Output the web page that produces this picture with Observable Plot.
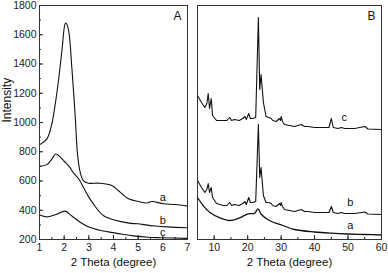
<!DOCTYPE html>
<html><head><meta charset="utf-8">
<script src="https://cdn.jsdelivr.net/npm/d3@7"></script>
<script src="https://cdn.jsdelivr.net/npm/@observablehq/plot@0.6"></script>
<style>
body{margin:0;background:#fff}
#wrap{position:relative;width:388px;height:273px;font-family:"Liberation Sans",Arial,sans-serif}
#wrap svg{position:absolute;top:0;overflow:visible}
</style>
</head><body><div id="wrap"></div>
<script>
// Panel A (low angle)
const thetaA_a = [1,1.3,1.5,1.64,1.77,1.91,2.04,2.08,2.18,2.31,2.45,2.54,2.65,2.78,2.99,3.46,3.93,4.27,4.61,5.01,5.35,5.55,6.03,6.5,7];
const intA_a   = [847,888,991,1128,1287,1492,1675,1679,1629,1378,1036,786,660,603,585,585,569,524,478,460,450,460,444,439,428];
const thetaA_b = [1,1.3,1.5,1.65,1.8,2.0,2.2,2.4,2.6,2.8,3.0,3.2,3.4,3.6,3.9,4.3,4.7,5.0,5.3,5.7,6.2,7];
const intA_b   = [700,712,750,785,770,735,700,650,612,550,490,440,395,362,340,322,310,308,300,292,286,280];
const thetaA_c = [1,1.3,1.5,1.7,2.04,2.3,2.65,3.0,3.4,3.8,4.3,4.8,5.4,5.9,7];
const intA_c   = [370,355,362,372,394,362,318,285,265,252,238,225,215,212,208];
const yTicksA = [200,400,600,800,1000,1200,1400,1600,1800];
const xTicksA = [1,2,3,4,5,6,7];
const labelsA = ["a","b","c"];
const labelXA = [6.0,6.0,6.0];
const labelYA = [490,330,245];

// Panel B (wide angle), arbitrary intensity units
const thetaB_a = [5,6.7,8.7,11.7,14.6,17.6,20.1,22.1,23.1,24.1,26.5,30.5,34,40,45,50,55,60];
const intB_a   = [42,34,27,21.7,19,21.7,25.7,26.3,30.7,25,19,14,10,7.5,6.3,5.5,5,4.5];
const thetaB = [5,6.2,7.2,7.8,8.2,8.6,9.1,9.5,10.7,12.7,13.8,14.6,15.2,16,17.5,18.5,19.2,19.6,20.3,20.8,21.5,22.4,23.2,23.6,24.0,24.7,25.5,26.3,27,27.5,28.5,29.5,29.8,30,30.4,31,34,35,36,37,38,40,44.3,45,45.6,47,48,49,52,55,56,60];
const intB_b = [59,52,47,50,56,47,52,42,36,34,34,37,34,35,34,36,38,35,42,37,37,38,115,62,72,44,37,37,36,34,33,36,34,37,33,30,28,29,30,28,28,27,27,33,27,26,27,26,26,27.5,25.5,25];
const intB_c = [144,137,132,136,146,131,141,124,119,119,119,122,119,120,119,121,123,120,126,121,121,122,222,150,165,137,123,122,121,119,118,121,119,123,118,115,113,114,115,113,113,112,112,121,112,111,112,111,111,113,110.5,110];
const xTicksB = [10,20,30,40,50,60];
const labelsB = ["c","b","a"];
const labelXB = [48.9,50.7,50.7];
const labelYB = [122,37,14];

const font = '"Liberation Sans", Arial, sans-serif';
const toRows = (xs, ys) => xs.map((x,i)=>({x, y: ys[i]}));
const fmt = d => String(d);

const plotA = Plot.plot({
  width: 192, height: 273,
  marginLeft: 39, marginRight: 5, marginTop: 5, marginBottom: 34,
  style: {fontFamily: font, fontSize: "10.5px", color: "#222", background: "transparent", overflow: "visible"},
  x: {domain: [1,7]},
  y: {domain: [200,1800]},
  marks: [
    Plot.axisY({ticks: d3.range(200,1801,100), tickSize: -2, tickFormat: () => "", label: null}),
    Plot.axisY({ticks: yTicksA, tickSize: -4, tickPadding: 7, tickFormat: fmt, fontSize: 10.5, label: null}),
    Plot.text(["Intensity"], {frameAnchor: "left", rotate: -90, dx: -32, text: d => d, fontSize: 12, fill: "#111"}),
    Plot.axisX({ticks: d3.range(1,7.01,0.5), tickSize: -2, tickFormat: () => "", label: null}),
    Plot.axisX({ticks: xTicksA, tickSize: -4, tickPadding: 8, tickFormat: fmt, fontSize: 10.5, label: null}),
    Plot.text(["2 Theta (degree)"], {frameAnchor: "bottom", dy: 26, text: d => d, fontSize: 11.5, fill: "#111"}),
    Plot.line(toRows(thetaA_a, intA_a), {x:"x", y:"y", curve:"catmull-rom", stroke:"#111", strokeWidth:1.1}),
    Plot.line(toRows(thetaA_b, intA_b), {x:"x", y:"y", curve:"catmull-rom", stroke:"#111", strokeWidth:1.1}),
    Plot.line(toRows(thetaA_c, intA_c), {x:"x", y:"y", curve:"catmull-rom", stroke:"#111", strokeWidth:1.1}),
    Plot.text(labelsA, {x:(d,i)=>labelXA[i], y:(d,i)=>labelYA[i], text:d=>d, fontSize:11, fill:"#111"}),
    Plot.text(["A"], {frameAnchor:"top-right", dx:-6, dy:6, text:d=>d, fontSize:12, fill:"#111"}),
    Plot.frame({stroke:"#333"})
  ]
});

const plotB = Plot.plot({
  width: 196, height: 273,
  marginLeft: 5, marginRight: 7, marginTop: 5, marginBottom: 34,
  style: {fontFamily: font, fontSize: "10.5px", color: "#222", background: "transparent", overflow: "visible"},
  x: {domain: [5,60]},
  y: {domain: [0,234], axis: null},
  marks: [
    Plot.axisX({ticks: d3.range(5,60.01,5), tickSize: -2, tickFormat: () => "", label: null}),
    Plot.axisX({ticks: xTicksB, tickSize: -4, tickPadding: 8, tickFormat: fmt, fontSize: 10.5, label: null}),
    Plot.text(["2 Theta (degree)"], {frameAnchor: "bottom", dy: 26, text: d => d, fontSize: 11.5, fill: "#111"}),
    Plot.line(toRows(thetaB_a, intB_a), {x:"x", y:"y", curve:"catmull-rom", stroke:"#111", strokeWidth:1.3}),
    Plot.line(toRows(thetaB, intB_b), {x:"x", y:"y", curve:"linear", stroke:"#111", strokeWidth:1.1}),
    Plot.line(toRows(thetaB, intB_c), {x:"x", y:"y", curve:"linear", stroke:"#111", strokeWidth:1.1}),
    Plot.text(labelsB, {x:(d,i)=>labelXB[i], y:(d,i)=>labelYB[i], text:d=>d, fontSize:11, fill:"#111"}),
    Plot.text(["B"], {frameAnchor:"top-right", dx:-6, dy:6, text:d=>d, fontSize:12, fill:"#111"}),
    Plot.frame({stroke:"#333"})
  ]
});
plotB.style.left = "192px";
plotA.style.left = "0px";
document.getElementById("wrap").append(plotA, plotB);
</script>
</body></html>
